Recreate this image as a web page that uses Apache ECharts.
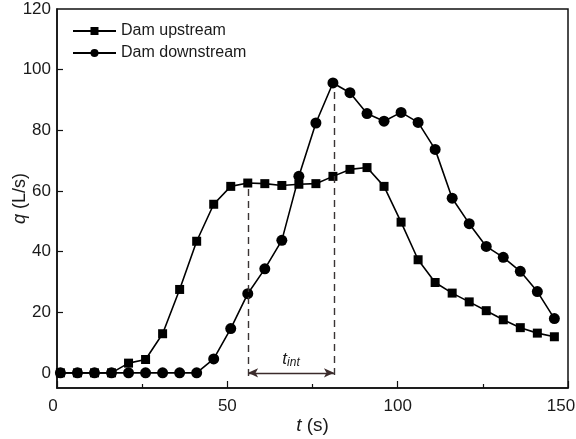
<!DOCTYPE html>
<html><head><meta charset="utf-8">
<script src="https://cdn.jsdelivr.net/npm/echarts@6/dist/echarts.min.js"></script>
<style>html,body{margin:0;padding:0;background:#fff}#c{width:576px;height:439px}</style>
</head><body><div id="c"></div>
<script>
const times = [1,6,11,16,21,26,31,36,41,46,51,56,61,66,71,76,81,86,91,96,101,106,111,116,121,126,131,136,141,146];
const upstream = [0,0,0,0,3.2,4.4,12.9,27.5,43.4,55.6,61.5,62.6,62.4,61.8,62.2,62.4,64.8,67.1,67.7,61.5,49.7,37.3,29.8,26.3,23.4,20.5,17.5,14.9,13.1,11.9];
const downstream = [0,0,0,0,0,0,0,0,0,4.6,14.6,26.1,34.3,43.7,64.8,82.4,95.6,92.4,85.5,83.0,85.9,82.6,73.7,57.6,49.2,41.7,38.1,33.5,26.8,17.9];
const yTicks = [0,20,40,60,80,100,120];
const tStart = 56.1, qStart = 62.6;
const tEnd = 81.3, qEnd = 95.6;
const qArrow = 0;

const FONT = '"Liberation Sans", Arial, sans-serif';
const chart = echarts.init(document.getElementById('c'), null, {renderer: 'canvas'});
const pair = (xs, ys) => xs.map((x, i) => [x, ys[i]]);
chart.setOption({
  animation: false,
  backgroundColor: '#fff',
  textStyle: {fontFamily: FONT},
  grid: {left: 57, right: 8, top: 9, bottom: 51, outerBoundsMode: 'none', containLabel: false,
         show: true, borderColor: '#111', borderWidth: 1.5, backgroundColor: 'transparent'},
  legend: {
    data: ['Dam upstream', 'Dam downstream'],
    orient: 'vertical', left: 72, top: 23, padding: 0, itemWidth: 43, itemHeight: 10, itemGap: 6,
    textStyle: {fontFamily: FONT, fontSize: 16, lineHeight: 14, color: '#1a1a1a'}
  },
  xAxis: {
    type: 'value', min: 0, max: 150, interval: 50,
    name: '{i|t} (s)', nameLocation: 'middle', nameGap: 28, nameMoveOverlap: false,
    nameTextStyle: {fontFamily: FONT, fontSize: 19, color: '#1a1a1a', rich: {i: {fontStyle: 'italic', fontFamily: FONT, fontSize: 19, color: '#1a1a1a'}}},
    axisLine: {show: true, onZero: false, lineStyle: {color: '#111', width: 1.5}},
    axisTick: {show: true, inside: true, length: 7, lineStyle: {color: '#111', width: 1.2}},
    minorTick: {show: true, splitNumber: 2, length: 4, lineStyle: {color: '#111', width: 1.2}},
    axisLabel: {fontFamily: FONT, fontSize: 17, color: '#1a1a1a', margin: 10,
      formatter: v => v === 150 ? '{r|150}' : (v === 0 ? '{l|0}' : String(v)),
      rich: {r: {fontFamily: FONT, fontSize: 17, color: '#1a1a1a', padding: [0, 14, 0, 0]},
             l: {fontFamily: FONT, fontSize: 17, color: '#1a1a1a', padding: [0, 8, 0, 0]}}},
    splitLine: {show: false}, minorSplitLine: {show: false}
  },
  yAxis: {
    type: 'value', min: -5, max: 120,
    name: '{i|q} (L/s)', nameLocation: 'middle', nameGap: 28, nameRotate: 90, nameMoveOverlap: false,
    nameTextStyle: {fontFamily: FONT, fontSize: 18, color: '#1a1a1a', rich: {i: {fontStyle: 'italic', fontFamily: FONT, fontSize: 18, color: '#1a1a1a'}}},
    axisLine: {show: true, onZero: false, lineStyle: {color: '#111', width: 1.5}},
    axisTick: {show: true, inside: true, length: 6, customValues: yTicks.slice(0, 6), lineStyle: {color: '#111', width: 1.2}},
    axisLabel: {fontFamily: FONT, fontSize: 17, color: '#1a1a1a', margin: 6, customValues: yTicks},
    splitLine: {show: false}
  },
  series: [
    {
      name: 'Dam upstream', type: 'line', data: pair(times, upstream),
      symbol: 'rect', symbolSize: 9, z: 3,
      lineStyle: {color: '#000', width: 1.6}, itemStyle: {color: '#000'}
    },
    {
      name: 'Dam downstream', type: 'line', data: pair(times, downstream),
      symbol: 'circle', symbolSize: 11, z: 4,
      lineStyle: {color: '#000', width: 1.6}, itemStyle: {color: '#000'}
    },
    {
      name: 'annot', type: 'line', data: [], silent: true,
      markLine: {
        silent: true, animation: false, symbol: ['none', 'none'],
        label: {show: false},
        lineStyle: {color: '#3a3434', width: 1.4, type: [7, 5]},
        data: [
          [{coord: [tStart, qStart - 2]}, {coord: [tStart, qArrow - 1.5]}],
          [{coord: [tEnd, qEnd - 3]}, {coord: [tEnd, qArrow - 1.5]}],
          [{coord: [tStart, qArrow], symbol: 'arrow', symbolSize: [7, 10],
            lineStyle: {type: 'solid', color: '#3b2b2b', width: 1.3},
            label: {show: true, position: 'middle', distance: 4, formatter: '{t|t}{s|int}',
              rich: {t: {fontStyle: 'italic', fontFamily: FONT, fontSize: 17, color: '#1a1a1a'},
                     s: {fontStyle: 'italic', fontFamily: FONT, fontSize: 12, color: '#1a1a1a', verticalAlign: 'bottom', padding: [8,0,0,0]}}}},
           {coord: [tEnd, qArrow], symbol: 'arrow', symbolSize: [7, 10]}]
        ]
      }
    }
  ]
});
</script></body></html>
